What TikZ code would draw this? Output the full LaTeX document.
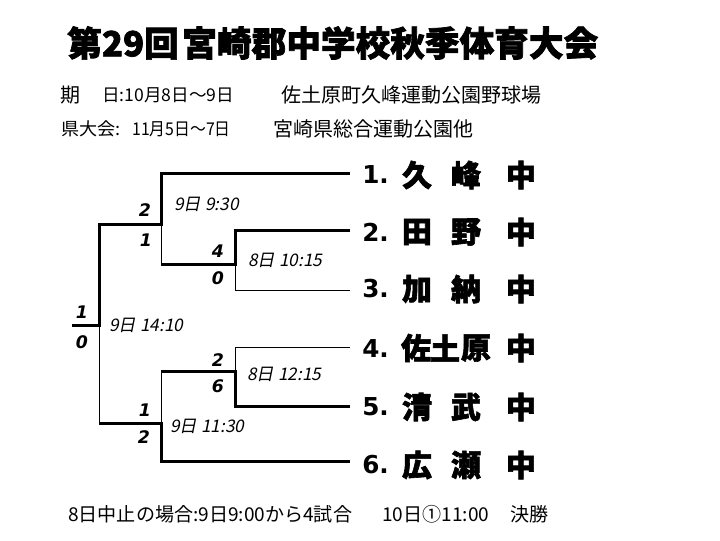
\documentclass[tikz,border=0pt]{standalone}
\usepackage{graphicx}
\usepackage{fontspec}
\newfontfamily\jp{Noto Sans CJK JP}
\newfontfamily\jpheavy{Noto Sans CJK JP}[BoldFeatures={FakeBold=2}]
\newfontfamily\jpsl{Noto Sans CJK JP}[FakeSlant=0.2]
\newfontfamily\dv{DejaVu Sans}
\newcommand\sqz[2]{\scalebox{#1}[1]{#2}}
\tikzset{
  titletext/.style={anchor=west, inner sep=0pt, font=\jpheavy\bfseries\fontsize{26}{30}\selectfont},
  infotext/.style={anchor=west, inner sep=0pt, font=\jp\fontsize{15}{18}\selectfont},
  datetext/.style={anchor=west, inner sep=0pt, font=\jp\fontsize{13.2}{16}\selectfont},
  teamchar/.style={inner sep=0pt, font=\jpheavy\bfseries\fontsize{22.5}{26}\selectfont},
  teamnum/.style={anchor=west, inner sep=0pt, font=\dv\bfseries\fontsize{18.5}{22}\selectfont},
  scoretext/.style={inner sep=0pt, font=\dv\bfseries\itshape\fontsize{13}{15}\selectfont},
  timetext/.style={anchor=west, inner sep=0pt, font=\jpsl\fontsize{13}{15}\selectfont},
  notetext/.style={anchor=west, inner sep=0pt, font=\jp\fontsize{14.3}{17}\selectfont},
  winline/.style={line width=2.25pt},
  loseline/.style={line width=0.75pt}
}
\begin{document}
\begin{tikzpicture}[x=0.75pt,y=-0.75pt]
\useasboundingbox (0,0) rectangle (720,540);
\fill[white] (0,0) rectangle (720,540);

% title and info
\node[titletext] (t1) at (67,43) {第29回};
\node[titletext] (t2) at (182,43) {宮崎郡中学校秋季体育大会};
\node[infotext] (i1) at (60,95) {期};
\node[datetext] (i2) at (102,95) {日:10月8日～9日};
\node[infotext] (i3) at (281,95) {佐土原町久峰運動公園野球場};
\node[datetext] (i4) at (61,129) {\sqz{1.03}{県大会:}};
\node[datetext] (i5) at (132,129) {\sqz{0.9}{11月5日～7日}};
\node[infotext] (i6) at (273,129) {宮崎県総合運動公園他};

% bracket coordinates
\coordinate (e1) at (350,173);
\coordinate (e2) at (350,230);
\coordinate (e3) at (350,290);
\coordinate (e4) at (350,347);
\coordinate (e5) at (350,406);
\coordinate (e6) at (350,461);
\coordinate (a1) at (161,173);
\coordinate (b2) at (235,230);
\coordinate (b3) at (235,290);
\coordinate (b23) at (235,264);
\coordinate (c23) at (161,264);
\coordinate (cA) at (161,224);
\coordinate (b4) at (235,347);
\coordinate (b5) at (235,406);
\coordinate (b45) at (235,371);
\coordinate (c45) at (161,371);
\coordinate (c6) at (161,461);
\coordinate (cB) at (161,423);
\coordinate (fA) at (99,224);
\coordinate (fB) at (99,423);
\coordinate (fc) at (99,325);
\coordinate (fw) at (72,325);

\draw[winline] (e1) -- (a1) -- (cA) -- (fA) -- (fc) -- (fw);
\draw[winline] (e2) -- (b2) -- (b23) -- (c23);
\draw[loseline] (c23) -- (cA);
\draw[loseline] (e3) -- (b3) -- (b23);
\draw[loseline] (e4) -- (b4) -- (b45);
\draw[winline] (e5) -- (b5) -- (b45) -- (c45);
\draw[loseline] (c45) -- (cB);
\draw[winline] (e6) -- (c6) -- (cB) -- (fB);
\draw[loseline] (fB) -- (fc);

% scores
\node[scoretext] (s1) at (145,210) {2};
\node[scoretext] (s2) at (146,240) {1};
\node[scoretext] (s3) at (218,251) {4};
\node[scoretext] (s4) at (218,278) {0};
\node[scoretext] (s5) at (82,312) {1};
\node[scoretext] (s6) at (82,342) {0};
\node[scoretext] (s7) at (218,360) {2};
\node[scoretext] (s8) at (218,386) {6};
\node[scoretext] (s9) at (145,410) {1};
\node[scoretext] (s10) at (144,437) {2};

% times
\node[timetext] (m1) at (174,204) {9日 9:30};
\node[timetext] (m2) at (248,260) {8日 10:15};
\node[timetext] (m3) at (109,325) {9日 14:10};
\node[timetext] (m4) at (247,374) {8日 12:15};
\node[timetext] (m5) at (170,426) {9日 11:30};

% teams
\node[teamnum] (n1) at (362,175) {1.};
\node[teamchar] (k1a) at (417,175) {久};
\node[teamchar] (k1b) at (466,175) {峰};
\node[teamchar] (k1c) at (521,175) {中};
\node[teamnum] (n2) at (362,232) {2.};
\node[teamchar] (k2a) at (417,232) {田};
\node[teamchar] (k2b) at (466,232) {野};
\node[teamchar] (k2c) at (521,232) {中};
\node[teamnum] (n3) at (362,289) {3.};
\node[teamchar] (k3a) at (417,289) {加};
\node[teamchar] (k3b) at (466,289) {納};
\node[teamchar] (k3c) at (521,289) {中};
\node[teamnum] (n4) at (362,348) {4.};
\node[teamchar] (k4a) at (416,348) {佐};
\node[teamchar] (k4b) at (445,348) {土};
\node[teamchar] (k4d) at (476,348) {原};
\node[teamchar] (k4c) at (521,348) {中};
\node[teamnum] (n5) at (362,407) {5.};
\node[teamchar] (k5a) at (417,407) {清};
\node[teamchar] (k5b) at (466,407) {武};
\node[teamchar] (k5c) at (521,407) {中};
\node[teamnum] (n6) at (362,465) {6.};
\node[teamchar] (k6a) at (417,465) {広};
\node[teamchar] (k6b) at (466,465) {瀬};
\node[teamchar] (k6c) at (521,465) {中};

% note
\node[notetext] (o1) at (68,514) {8日中止の場合:9日9:00から4試合};
\node[notetext] (o2) at (382,514) {10日①11:00};
\node[notetext] (o3) at (510,514) {決勝};
\end{tikzpicture}
\end{document}
